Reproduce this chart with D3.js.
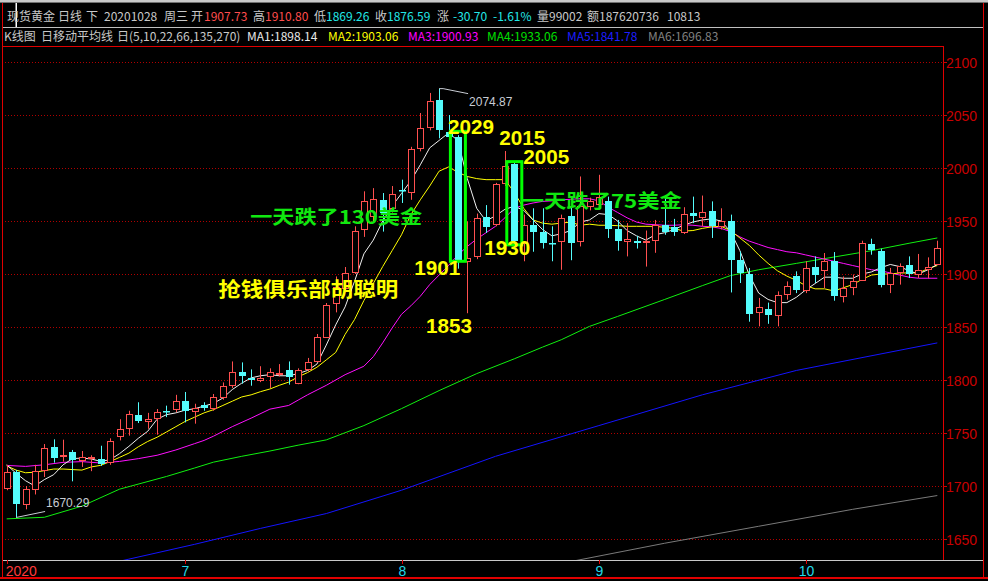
<!DOCTYPE html>
<html><head><meta charset="utf-8">
<script src="https://cdn.jsdelivr.net/npm/d3@7"></script>
<style>html,body{margin:0;padding:0;background:#000;overflow:hidden}</style>
</head><body>
<svg id="c" width="988" height="581"></svg>
<script>
// ---------------- DATA ----------------
const opens = [
1698.5,1713,1683,1697.5,1714.7,1737,1728,1732,1725,1726,
1725.5,1722.6,1747,1754.7,1767,1761,1764,1770.5,1772.6,1780.5,
1770.4,1776.7,1773.6,1783.6,1795,1808,1802,1800.3,1803.4,1806,
1809.7,1797,1810.4,1817.5,1841,1872.6,1886.8,1901.5,1942.5,1954.3,
1969.4,1962.3,1979,1977,2018.9,2038.7,2064.4,2034,2029,1912.5,
1916.6,1953.4,1947.2,1986,2004,1929,1946.5,1940,1929.5,1930.8,
1955,1930.8,1964,1966,1968.5,1942.7,1930.8,1931,1930.2,1931.7,
1945.8,1944.3,1939.2,1957.5,1953.8,1959.7,1945,1949.6,1912.8,1900.3,
1863.8,1867,1861,1881.4,1897.7,1885.2,1906.2,1903.4,1912.5,1878.9,
1887.7,1894.6,1928.3,1922,1890.9,1901.5,1908.8,1900,1904.7,1909.4];
const highs = [
1720,1715,1700,1720,1739.6,1744,1743.7,1734,1733,1729,
1738,1745,1763,1771,1779,1769,1772.6,1775.8,1786,1788.7,
1777.6,1779,1786.8,1797.7,1817.5,1816.6,1810,1813,1811,1815,
1817.5,1811,1820.8,1843.4,1872.6,1897.7,1906.6,1945,1978,1981,
1976.4,1983,1989,2020,2051.9,2070.8,2074.87,2050,2031,1949.6,
1957,1965,1986,2016,2006,1956,1962,1962,1945,1956,
1963,1992,1972,1993.6,1973,1951,1948,1936,1941,1951,
1971.7,1952,1963,1973,1974,1968.5,1962,1956,1921.3,1905.7,
1877.4,1873,1883.6,1893,1902.5,1912,1916.6,1919.8,1920.7,1897.7,
1899.5,1931.4,1933.3,1923.9,1905.7,1910,1916.6,1918.9,1915.7,1931.4];
const lows = [
1696,1670.29,1678,1692,1708.5,1722,1723,1704.4,1718,1714,
1719,1720,1743,1747.5,1759.4,1754,1748.4,1765,1769.6,1760,
1758.8,1771,1771,1781.4,1792.5,1796.5,1794.6,1798,1792.5,1803.4,
1795.6,1796,1808,1816.6,1840.6,1863.8,1883.6,1900,1935,1949.6,
1940,1958,1967,1970,2015.7,2035.5,2028,2025,1905,1863,
1914,1938.7,1945,1983,1928,1912,1921,1924,1912,1904,
1913,1926,1960,1962,1934,1922,1916.6,1924,1907,1920,
1937,1936,1937.7,1948,1945,1934,1942,1882.6,1891.5,1855,
1850.6,1853,1850.6,1875.8,1882,1882,1891.5,1886.8,1874.8,1873.2,
1880,1893.7,1918.2,1887.4,1882,1890,1896.2,1896.2,1896,1908.8];
const closes = [
1713,1683,1697,1714,1735.8,1726,1729.5,1725,1727,1727,
1721,1742.7,1754,1768,1761,1763,1770,1769.5,1780.5,1770.4,
1774,1773.6,1784,1794.6,1808,1803.5,1799.6,1802,1808,1806.8,
1802.8,1809,1817,1840.2,1870.8,1887.4,1901,1941,1968.5,1970.8,
1957.5,1975.8,1978,2018.2,2037.7,2063.5,2035.5,2029,1913,1915,
1952.8,1944,1985,2002,1931,1946.5,1940,1929,1929,1952.8,
1929,1963.8,1968.5,1973,1942.7,1930.8,1933.3,1929.5,1931.4,1945.8,
1940,1940,1956.6,1955,1958.5,1945,1949.6,1912.8,1901,1862.5,
1868.5,1861,1880.5,1888.3,1885.2,1905.7,1899.3,1912.5,1878.9,1886.8,
1893.7,1929.2,1922.9,1890,1901,1907.8,1900,1904,1906.2,1924.5];

// moving-average lines: [candle index, value]
const ma1 = [[0,1720],[1,1712],[2,1705],[3,1700],[4,1706],[5,1710.7],[6,1720],[7,1725.8],[8,1726.4],[9,1725.5],
[10,1723.2],[11,1724.8],[12,1730.5],[13,1737.4],[14,1745],[15,1751.6],[16,1763],[17,1767.3],[18,1769],[19,1771.6],
[20,1772.9],[21,1775.4],[22,1778],[23,1783],[24,1791],[25,1797],[26,1802],[27,1804],[28,1805],[29,1804],
[30,1804],[31,1806],[32,1809],[33,1815],[34,1833],[35,1852],[36,1869],[37,1893],[38,1919],[39,1932],
[40,1950],[41,1964],[42,1976],[43,1988],[44,2003],[45,2019],[46,2026],[47,2033],[48,2026],[49,1990],
[50,1962],[51,1950],[52,1955],[53,1961],[54,1964],[55,1960],[56,1951],[57,1942],[58,1936],[59,1938],
[60,1941],[61,1949],[62,1951],[63,1957],[64,1956],[65,1950],[66,1941],[67,1936],[68,1932],[69,1937],
[70,1939],[71,1942],[72,1946],[73,1949],[74,1951],[75,1952],[76,1950],[77,1940],[78,1922],[79,1899],
[80,1882],[81,1876],[82,1873],[83,1873],[84,1878],[85,1885],[86,1891],[87,1897],[88,1897],[89,1896],
[90,1896],[91,1900],[92,1902],[93,1906],[94,1909],[95,1907],[96,1903],[97,1900],[98,1904],[99,1909]];
const ma2 = [[0,1719],[1,1715],[2,1712.5],[3,1713],[4,1714.5],[5,1716],[6,1716],[7,1715.5],[8,1715],[9,1718],
[10,1719.5],[11,1723],[12,1727],[13,1731],[14,1737],[15,1742],[16,1746],[17,1751],[18,1756],[19,1761],
[20,1765],[21,1769],[22,1772],[23,1776],[24,1780],[25,1784],[26,1786],[27,1789],[28,1791.5],[29,1795],
[30,1798],[31,1803],[32,1807],[33,1812],[34,1819],[35,1826],[36,1843],[37,1857],[38,1875],[39,1891],
[40,1907],[41,1922],[42,1937],[43,1956],[44,1970],[45,1983],[46,1997],[47,2001],[48,1996],[49,1992],
[50,1990],[51,1989],[52,1989],[53,1989],[54,1977],[55,1962],[56,1951],[57,1948],[58,1947],[59,1948],
[60,1949],[61,1946],[62,1947],[63,1946],[64,1946],[65,1945.6],[66,1945],[67,1945],[68,1945],[69,1945],
[70,1944],[71,1943],[72,1940.5],[73,1941],[74,1943],[75,1944.5],[76,1945],[77,1941],[78,1934],[79,1927],
[80,1918],[81,1910],[82,1903],[83,1898],[84,1894],[85,1889],[86,1886],[87,1886],[88,1884],[89,1887],
[90,1890],[91,1895],[92,1899],[93,1900],[94,1900],[95,1901],[96,1901],[97,1901],[98,1905],[99,1908]];
const ma3 = [[0,1719.4],[2,1718.5],[4,1720],[6,1722.3],[8,1723],[10,1721.7],[12,1723.2],[14,1725.8],[16,1729],[18,1734],
[20,1740],[21,1743],[22,1747],[24,1756],[26,1764],[28,1772.5],[30,1776],[31,1781],[32,1786],[34,1795],
[36,1805],[38,1813],[39,1822],[40,1835],[41,1849],[42,1862],[43,1870],[44,1879],[45,1890],[46,1899],
[47,1908],[48,1918],[49,1926],[50,1933],[51,1939],[52,1945],[53,1953],[54,1962],[55,1965],[56,1967],
[57,1968.5],[58,1969],[59,1970],[60,1970.5],[61,1971],[62,1971],[63,1969],[64,1963],[65,1958],[66,1953],
[67,1949],[68,1947],[69,1946.5],[70,1946],[71,1946],[72,1946.5],[73,1946],[74,1945],[75,1944.5],[76,1943],
[77,1940],[78,1935],[79,1931],[80,1928],[81,1925],[82,1923],[83,1921],[84,1920],[85,1918],[86,1916],
[87,1914],[88,1912],[89,1910],[90,1908],[91,1906],[92,1904],[93,1903],[94,1901],[95,1899],[96,1897],
[97,1896],[98,1896],[99,1896]];
const ma4 = [[0,1669],[4,1670.5],[8,1681],[12,1697],[17,1709],[20,1717],[22,1722.5],[25,1728],[28,1733],[31,1738.5],
[34,1743.5],[38,1757],[42,1773],[46,1790],[50,1806],[54,1820],[57,1831],[59,1838],[62,1850.6],[65,1860],
[70,1876],[74,1889],[77,1898.5],[80,1904],[84,1910],[88,1916],[92,1922],[96,1929],[99,1934]];
const ma5 = [[12,1629],[13,1631],[20,1645],[27,1660],[34,1674],[42,1696],[52,1728],[63,1757],[74,1786],[84,1809],[99,1835]];
const ma6 = [[58,1625],[59,1627],[70,1646],[80,1662],[90,1678],[99,1691]];

const yTicks = [1650,1700,1750,1800,1850,1900,1950,2000,2050,2100];
const monthLabels = ["2020","7","8","9","10"];
const monthIndex = [0,19,42,63,85];

const headerText = [
 ["现货黄金",7,"#c8c8c8"],["日线",58,"#c8c8c8"],["下",86,"#c8c8c8"],["20201028",104,"#c8c8c8"],
 ["周三",164,"#c8c8c8"],["开",191,"#c8c8c8"],["1907.73",204,"#ff4d4d"],["高",253,"#c8c8c8"],
 ["1910.80",265,"#ff4d4d"],["低",314,"#c8c8c8"],["1869.26",326,"#22e8e8"],["收",375,"#c8c8c8"],
 ["1876.59",387,"#22e8e8"],["涨",437,"#c8c8c8"],["-30.70",453,"#22e8e8"],["-1.61%",493,"#22e8e8"],
 ["量99002",537,"#c8c8c8"],["额187620736",587,"#c8c8c8"],["10813",667,"#c8c8c8"]];
const legendText = [
 ["K线图",4,"#c8c8c8"],["日移动平均线",41,"#c8c8c8"],["日(5,10,22,66,135,270)",117,"#c8c8c8"],
 ["MA1:1898.14",247,"#e8e8e8"],["MA2:1903.06",328,"#ffff00"],["MA3:1900.93",408,"#ff00ff"],
 ["MA4:1933.06",487,"#00e000"],["MA5:1841.78",567,"#1e1eff"],["MA6:1696.83",648,"#808080"]];

// ---------------- DRAW ----------------
const svg = d3.select("#c");
const n = closes.length;
const x = d3.scaleLinear().domain([0, n-1]).range([6.7, 937.3]);
const y = d3.scaleLinear().domain([1650, 2100]).range([539, 62]);
const PL=3, PR=943, PT=46, PB=560;

svg.append("rect").attr("width",988).attr("height",581).attr("fill","#000");
// window chrome / frames
svg.append("rect").attr("x",0).attr("y",0).attr("width",988).attr("height",2).attr("fill","#c8c8c8");
svg.append("line").attr("x1",0).attr("x2",988).attr("y1",2.5).attr("y2",2.5).attr("stroke","#707070");
svg.append("line").attr("x1",3).attr("x2",983).attr("y1",27.5).attr("y2",27.5).attr("stroke","#c0c0c0");
svg.append("line").attr("x1",2.5).attr("x2",2.5).attr("y1",3).attr("y2",578).attr("stroke","#e00000");
svg.append("line").attr("x1",983.5).attr("x2",983.5).attr("y1",3).attr("y2",578).attr("stroke","#e00000");
svg.append("line").attr("x1",3).attr("x2",PR).attr("y1",PT+0.5).attr("y2",PT+0.5).attr("stroke","#e00000");
svg.append("line").attr("x1",PR+0.5).attr("x2",PR+0.5).attr("y1",PT).attr("y2",PB).attr("stroke","#e00000");
svg.append("line").attr("x1",3).attr("x2",983).attr("y1",PB+0.5).attr("y2",PB+0.5).attr("stroke","#c8c8c8");
svg.append("rect").attr("x",0).attr("y",577).attr("width",988).attr("height",2).attr("fill","#e00000");
// cursor bar
svg.append("rect").attr("x",15.5).attr("y",3).attr("width",1.5).attr("height",24).attr("fill","#ffffff");

// header texts
const fontCJK = "'Noto Sans CJK SC','Noto Sans',sans-serif";
svg.append("g").selectAll("text").data(headerText).join("text")
  .attr("x",d=>d[1]).attr("y",21).attr("fill",d=>d[2])
  .attr("font-family",fontCJK).attr("font-size",12).text(d=>d[0]);
svg.append("g").selectAll("text").data(legendText).join("text")
  .attr("x",d=>d[1]).attr("y",41).attr("fill",d=>d[2])
  .attr("font-family",fontCJK).attr("font-size",12).text(d=>d[0]);

// grid + right axis
const grid = svg.append("g");
yTicks.forEach(t=>{
  const yy = Math.round(y(t))+0.5;
  grid.append("line").attr("x1",PL+2).attr("x2",PR).attr("y1",yy).attr("y2",yy)
    .attr("stroke","#b00000").attr("stroke-dasharray","1,2");
  grid.append("line").attr("x1",PR).attr("x2",PR+4).attr("y1",yy).attr("y2",yy).attr("stroke","#d00000");
  grid.append("text").attr("x",946).attr("y",yy).attr("dy","0.36em").attr("fill","#c80000")
    .attr("font-family","'Liberation Sans',Arial,sans-serif").attr("font-size",14).text(t);
});

// x axis month labels
monthIndex.forEach((mi,k)=>{
  const xx = Math.round(x(mi))+0.5;
  svg.append("line").attr("x1",xx).attr("x2",xx).attr("y1",PB).attr("y2",PB+4).attr("stroke","#e00000");
  svg.append("text").attr("x", k===0 ? x(mi)-1 : xx).attr("y",576)
    .attr("text-anchor", k===0 ? "start":"middle")
    .attr("fill", k===0 ? "#ff3a3a" : "#22d8e8")
    .attr("font-family","'Liberation Sans',Arial,sans-serif").attr("font-size",14).text(monthLabels[k]);
});

// clip
svg.append("clipPath").attr("id","plot").append("rect")
  .attr("x",PL+1).attr("y",PT+1).attr("width",PR-PL-1).attr("height",PB-PT-1);
const plot = svg.append("g").attr("clip-path","url(#plot)");

// MA lines
const line = d3.line().x(d=>x(d[0])).y(d=>y(d[1]));
[[ma6,"#7a7a7a"],[ma5,"#1414ff"],[ma4,"#10f010"],[ma3,"#ff10ff"],[ma2,"#ffff00"],[ma1,"#f0f0f0"]].forEach(([d,c])=>{
  plot.append("path").datum(d).attr("d",line).attr("fill","none").attr("stroke",c).attr("stroke-width",1);
});

// candles
const RED="#ff5050", CYAN="#54fcfc";
const cg = plot.append("g");
for(let i=0;i<n;i++){
  const o=opens[i], c=closes[i], h=highs[i], l=lows[i];
  const up = c>=o;
  const cx = Math.round(x(i))+0.5;
  const top = Math.round(y(Math.max(o,c))), bot = Math.round(y(Math.min(o,c)));
  const col = up?RED:CYAN;
  cg.append("line").attr("x1",cx).attr("x2",cx).attr("y1",y(h)).attr("y2",y(l)).attr("stroke",col);
  if(up){
    cg.append("rect").attr("x",cx-3).attr("y",top+0.5).attr("width",6).attr("height",Math.max(bot-top,1))
      .attr("fill","#000").attr("stroke",col).attr("stroke-width",1);
  } else {
    cg.append("rect").attr("x",cx-3.5).attr("y",top).attr("width",7).attr("height",Math.max(bot-top,1.5))
      .attr("fill",col);
  }
}

// high/low value annotations
const hiIdx = d3.maxIndex(highs), loIdx = d3.minIndex(lows);
const gcol = "#c8ccd4";
svg.append("polyline").attr("points",
  `${x(hiIdx)},${y(highs[hiIdx])} ${x(hiIdx)+4},${y(highs[hiIdx])} ${x(hiIdx)+29},${y(highs[hiIdx])+5}`)
  .attr("fill","none").attr("stroke",gcol);
svg.append("text").attr("x",x(hiIdx)+30).attr("y",y(highs[hiIdx])+17).attr("fill",gcol)
  .attr("font-family","'Liberation Sans',Arial,sans-serif").attr("font-size",12).text(highs[hiIdx].toFixed(2));
svg.append("line").attr("x1",x(loIdx)).attr("y1",y(lows[loIdx])).attr("x2",x(loIdx)+29).attr("y2",y(lows[loIdx])-6)
  .attr("stroke",gcol);
svg.append("text").attr("x",x(loIdx)+30).attr("y",y(lows[loIdx])-10).attr("fill",gcol)
  .attr("font-family","'Liberation Sans',Arial,sans-serif").attr("font-size",12).text(lows[loIdx].toFixed(2));

// green boxes around the two big drop candles: [index, top price, bottom price]
const boxes = [[48,2034.6,1912],[54,2006,1927.5]];
boxes.forEach(b=>{
  svg.append("rect").attr("x",x(b[0])-7.5).attr("y",y(b[1])).attr("width",15).attr("height",y(b[2])-y(b[1]))
    .attr("fill","none").attr("stroke","#00ff00").attr("stroke-width",3);
});

// text annotations: [text, index, price(baseline), color, size, width]
const notes = [
  ["2029",46.95,2032.4,"#ffff00",21,46],
  ["2015",52.4,2022,"#ffff00",21,46],
  ["2005",54.96,2004,"#ffff00",21,46],
  ["1930",50.8,1918.2,"#ffff00",21,46],
  ["1901",43.36,1899.3,"#ffff00",21,46],
  ["1853",44.6,1844.6,"#ffff00",21,46],
  ["一天跌了130美金",25.9,1947.5,"#10e810",19,172],
  ["一天跌了75美金",54.8,1962.5,"#10e810",19,160],
  ["抢钱俱乐部胡聪明",22.5,1878.6,"#ffff00",20,180]];
svg.append("g").selectAll("text").data(notes).join("text")
  .attr("x",d=>x(d[1])).attr("y",d=>y(d[2])).attr("fill",d=>d[3])
  .attr("font-family",d=>/\d{4}$/.test(d[0]) ? "'Liberation Sans',Arial,sans-serif" : fontCJK)
  .attr("font-weight","bold").attr("font-size",d=>d[4])
  .attr("textLength",d=>d[5]).attr("lengthAdjust","spacingAndGlyphs")
  .text(d=>d[0]);
</script>
</body></html>
